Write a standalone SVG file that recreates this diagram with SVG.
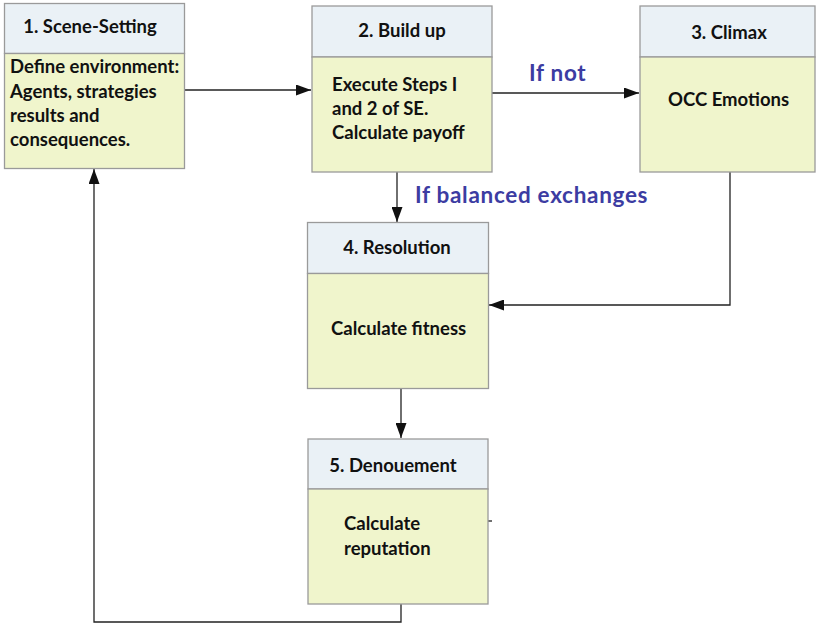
<svg xmlns="http://www.w3.org/2000/svg" width="817" height="625" viewBox="0 0 817 625">
<style>
.hd{fill:#eaf1f6;stroke:#9a9a9a;stroke-width:1.3}
.bd{fill:#f0f5cc;stroke:#9a9a9a;stroke-width:1.3}
.t{font-family:Lato,"Open Sans","Liberation Sans",sans-serif;font-weight:bold;font-size:18.5px;fill:#111}
.c{text-anchor:middle}
.lbl{font-family:Lato,"Open Sans","Liberation Sans",sans-serif;font-weight:bold;font-size:22.5px;letter-spacing:0.7px;fill:#3c3ca2}
.ln{fill:none;stroke:#222;stroke-width:1.3}
</style>
<defs>
<marker id="ah" viewBox="0 0 15 11" refX="15" refY="5.5" markerWidth="15" markerHeight="11" markerUnits="userSpaceOnUse" orient="auto">
<path d="M0,0 L15,5.5 L0,11 z" fill="#111"/>
</marker>
</defs>
<rect width="817" height="625" fill="#fff"/>
<g id="connectors">
<path class="ln" d="M185,90 H311" marker-end="url(#ah)"/>
<path class="ln" d="M492,93 H639" marker-end="url(#ah)"/>
<path class="ln" d="M397,172 V222" marker-end="url(#ah)"/>
<path class="ln" d="M730,172 V305 H489" marker-end="url(#ah)"/>
<path class="ln" d="M401,388 V438" marker-end="url(#ah)"/>
<path class="ln" d="M401,604 V622 H94 V169" marker-end="url(#ah)"/>
<path class="ln" d="M488,521 H492"/>
<text class="lbl" x="529" y="81">If not</text>
<text class="lbl" x="415" y="203">If balanced exchanges</text>
</g>
<g id="n1">
<rect class="hd" x="4.5" y="3.5" width="180" height="50"/>
<rect class="bd" x="4.5" y="53.5" width="180" height="115"/>
<text class="t c" x="90" y="33">1. Scene-Setting</text>
<text class="t" x="10" y="73">Define environment:</text>
<text class="t" x="10" y="98">Agents, strategies</text>
<text class="t" x="10" y="122">results and</text>
<text class="t" x="10" y="146">consequences.</text>
</g>
<g id="n2">
<rect class="hd" x="312" y="6" width="180" height="51"/>
<rect class="bd" x="312" y="57" width="180" height="115"/>
<text class="t c" x="402" y="37">2. Build up</text>
<text class="t" x="332" y="91">Execute Steps I</text>
<text class="t" x="332" y="115">and 2 of SE.</text>
<text class="t" x="332" y="139">Calculate payoff</text>
</g>
<g id="n3">
<rect class="hd" x="640" y="6" width="175" height="51"/>
<rect class="bd" x="640" y="57" width="175" height="115"/>
<text class="t c" x="729" y="39">3. Climax</text>
<text class="t" x="668" y="106">OCC Emotions</text>
</g>
<g id="n4">
<rect class="hd" x="307.5" y="222.5" width="181" height="51"/>
<rect class="bd" x="307.5" y="273.5" width="181" height="115"/>
<text class="t c" x="397" y="254">4. Resolution</text>
<text class="t" x="331" y="335">Calculate fitness</text>
</g>
<g id="n5">
<rect class="hd" x="308" y="439" width="180" height="50"/>
<rect class="bd" x="308" y="489" width="180" height="115"/>
<text class="t c" x="393" y="472">5. Denouement</text>
<text class="t" x="344" y="530">Calculate</text>
<text class="t" x="344" y="555">reputation</text>
</g>
</svg>
